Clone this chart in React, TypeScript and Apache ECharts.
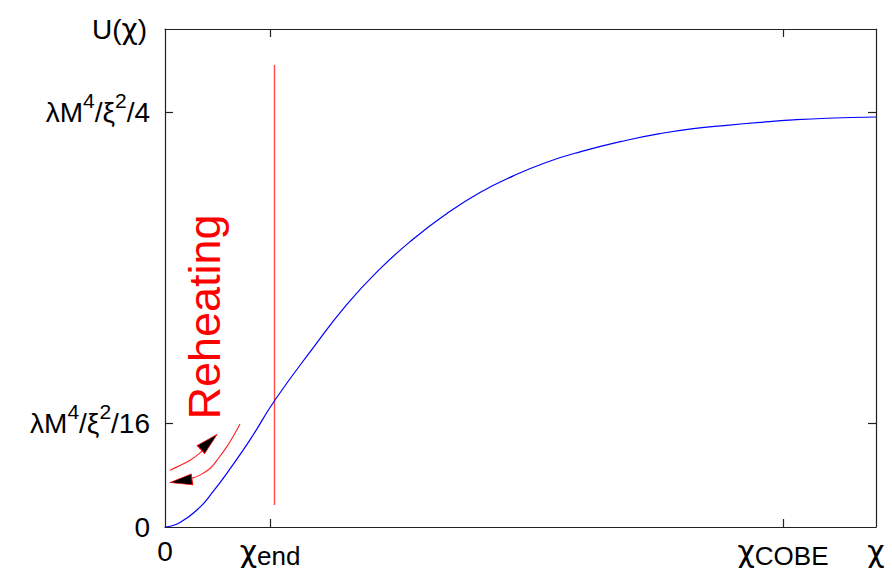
import React, { useEffect, useRef } from "react";
import * as echarts from "echarts";

// Potential U(χ) in units of λM⁴/ξ²/4 ; χ in arbitrary plot units
const potentialChi = [0, 0.15, 0.35, 0.48, 0.62, 0.85, 1.1, 1.483, 1.817, 2.15, 2.483, 2.817, 3.15, 3.483, 3.817, 4.15, 4.617, 4.95, 5.283, 5.617, 5.95, 6.283, 6.617, 7.11];
const potentialU = [0, 0.011, 0.048, 0.085, 0.13, 0.21, 0.306, 0.432, 0.536, 0.622, 0.694, 0.755, 0.806, 0.846, 0.879, 0.904, 0.932, 0.948, 0.96, 0.968, 0.975, 0.981, 0.985, 0.988];

// χ_end marker line
const endLineChi = [1.095, 1.095];
const endLineU = [0.053, 1.113];

// Reheating arrows
const arcUpChi = [0.05, 0.15, 0.25, 0.333, 0.4];
const arcUpU = [0.137, 0.148, 0.161, 0.175, 0.19];
const arcDownChi = [0.75, 0.7, 0.617, 0.533, 0.45, 0.35, 0.25];
const arcDownU = [0.248, 0.226, 0.193, 0.165, 0.141, 0.125, 0.116];
const arrowHeadChi = [0.44, 0.16];
const arrowHeadU = [0.205, 0.111];
const arrowHeadAngle = [-47, 98];

// Axes
const X_MAX = 7.11;
const Y_MAX = 1.2;
const xTickValues = [1.05, 6.18];
const xLabelValues = [0, 1.05, 6.18, 7.11];
const xLabels = ["{m|0}", "{c|χ}{s|end}", "{c|χ}{s|COBE}", "{c|χ}"];
const yTickValues = [0.25, 1];
const yLabelValues = [0, 0.25, 1];
const yLabels = [
  "{m|0}",
  "{m|λM}{p|4}{m|/ξ}{p|2}{m|/16}",
  "{m|λM}{p|4}{m|/ξ}{p|2}{m|/4}",
];

const FONT = "'Liberation Sans', Arial, Helvetica, sans-serif";
const CHI_FONT = "'DejaVu Sans', 'Liberation Sans', sans-serif";
const AXIS_COLOR = "#222";

const zip = (a: number[], b: number[]) => a.map((v, i) => [v, b[i]]);
const pick = (vals: number[], labels: string[]) => (v: number) => {
  const i = vals.findIndex((x) => Math.abs(x - v) < 1e-6);
  return i >= 0 ? labels[i] : "";
};

export default function App() {
  const ref = useRef<HTMLDivElement>(null);
  useEffect(() => {
    if (!ref.current) return;
    const chart = echarts.init(ref.current, undefined, { renderer: "svg" });
    const axisLine = { show: true, onZero: false, lineStyle: { color: AXIS_COLOR, width: 1.2 } };
    const tickStyle = { color: AXIS_COLOR, width: 1.2 };
    chart.setOption({
      animation: false,
      backgroundColor: "#fff",
      grid: { left: 165, right: 16, top: 29, bottom: 47, containLabel: false },
      xAxis: [
        {
          type: "value",
          min: 0,
          max: X_MAX,
          position: "bottom",
          axisLine,
          splitLine: { show: false },
          axisTick: { show: true, inside: true, length: 8, customValues: xTickValues, lineStyle: tickStyle },
          axisLabel: {
            show: true,
            customValues: xLabelValues,
            formatter: pick(xLabelValues, xLabels),
            margin: 6,
            rich: {
              m: { fontSize: 28, fontFamily: FONT, color: "#000", lineHeight: 36 },
              c: { fontSize: 30, fontFamily: CHI_FONT, color: "#000", lineHeight: 36 },
              s: { fontSize: 26, fontFamily: FONT, color: "#000", lineHeight: 26, verticalAlign: "bottom" },
            },
          },
        },
        {
          type: "value",
          min: 0,
          max: X_MAX,
          position: "top",
          axisLine,
          splitLine: { show: false },
          axisTick: { show: true, inside: true, length: 8, customValues: xTickValues, lineStyle: tickStyle },
          axisLabel: { show: false },
        },
      ],
      yAxis: [
        {
          type: "value",
          min: 0,
          max: Y_MAX,
          position: "left",
          axisLine,
          splitLine: { show: false },
          name: "{m|U(}{c|χ}{m|)}",
          nameLocation: "end",
          nameGap: 0,
          nameTextStyle: {
            align: "right",
            verticalAlign: "middle",
            padding: [0, 18, 0, 0],
            rich: {
              m: { fontSize: 28, fontFamily: FONT, color: "#000" },
              c: { fontSize: 28, fontFamily: CHI_FONT, color: "#000" },
            },
          },
          axisTick: { show: true, inside: true, length: 8, customValues: yTickValues, lineStyle: tickStyle },
          axisLabel: {
            show: true,
            customValues: yLabelValues,
            formatter: pick(yLabelValues, yLabels),
            margin: 15,
            rich: {
              m: { fontSize: 28, fontFamily: FONT, color: "#000", lineHeight: 44 },
              p: { fontSize: 21, fontFamily: FONT, color: "#000", lineHeight: 21, verticalAlign: "top" },
            },
          },
        },
        {
          type: "value",
          min: 0,
          max: Y_MAX,
          position: "right",
          axisLine,
          splitLine: { show: false },
          axisTick: { show: true, inside: true, length: 8, customValues: yTickValues, lineStyle: tickStyle },
          axisLabel: { show: false },
        },
      ],
      series: [
        {
          type: "line",
          data: zip(potentialChi, potentialU),
          smooth: 0.5,
          symbol: "none",
          lineStyle: { color: "#0000ff", width: 1.2 },
          z: 3,
        },
        {
          type: "line",
          data: zip(endLineChi, endLineU),
          symbol: "none",
          lineStyle: { color: "#ff4a4a", width: 1.4 },
          z: 2,
        },
        {
          type: "line",
          data: zip(arcUpChi, arcUpU),
          smooth: 0.3,
          symbol: "none",
          lineStyle: { color: "#ff2020", width: 1.1 },
        },
        {
          type: "line",
          data: zip(arcDownChi, arcDownU),
          smooth: 0.3,
          symbol: "none",
          lineStyle: { color: "#ff2020", width: 1.1 },
        },
        {
          type: "scatter",
          data: arrowHeadChi.map((x, i) => ({
            value: [x, arrowHeadU[i]],
            symbolRotate: arrowHeadAngle[i],
          })),
          symbol: "triangle",
          symbolSize: [11, 22],
          itemStyle: { color: "#000", borderColor: "#ff0000", borderWidth: 0.8, opacity: 1 },
          z: 4,
        },
      ],
      graphic: [
        {
          type: "text",
          x: 204,
          y: 317,
          rotation: Math.PI / 2,
          style: {
            text: "Reheating",
            fontSize: 45,
            fontFamily: FONT,
            fill: "#ff0000",
            align: "center",
            verticalAlign: "middle",
          },
        },
      ],
    });
    return () => chart.dispose();
  }, []);
  return (
    <div
      ref={ref}
      style={{ position: "fixed", left: 0, top: 0, width: 892, height: 574, background: "#fff" }}
    />
  );
}
